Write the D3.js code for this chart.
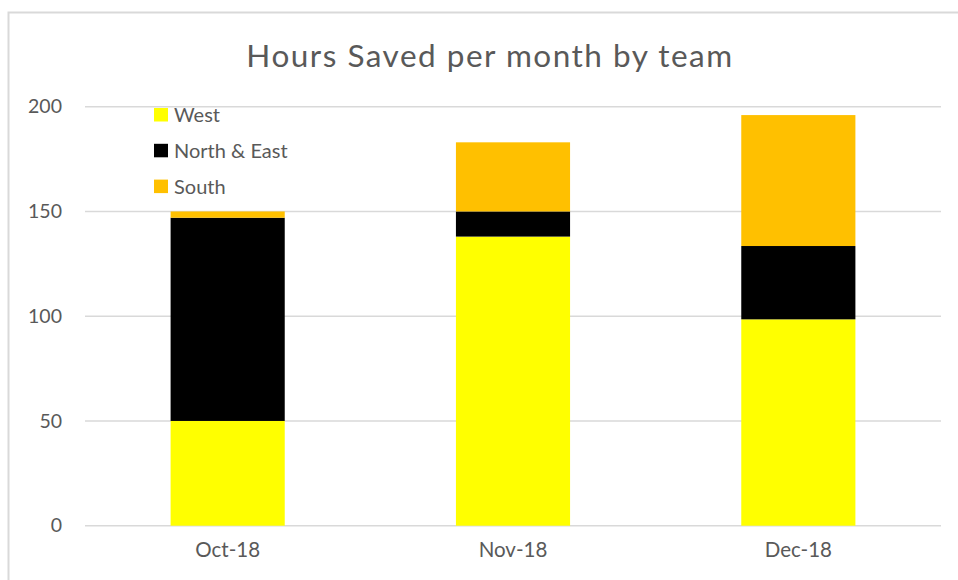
<!DOCTYPE html>
<head>
    <meta charset="utf-8">
    <title>Hours Saved per month by team</title>
    <style>
        body { margin: 0; background: #fff; }
        text { font-family: Lato, "Open Sans", sans-serif; fill: #595959; }
    </style>
</head>
<body>

<svg width="958" height="580"></svg>

<script src="https://cdn.jsdelivr.net/npm/d3@7"></script>
<script>

    // data
    var months = ["Oct-18", "Nov-18", "Dec-18"];
    var teams = ["West", "North & East", "South"];
    var west = [50, 138, 98.5];
    var northEast = [97, 12, 35];
    var south = [3, 33, 62.5];
    var yTicks = [0, 50, 100, 150, 200];
    var teamColors = ["#FFFF00", "#000000", "#FFC000"];

    var svg = d3.select("svg");

    var rows = months.map(function(m, i) {
        return { month: m, "West": west[i], "North & East": northEast[i], "South": south[i] };
    });

    var x = d3.scaleBand()
        .domain(months)
        .range([85, 941])
        .paddingInner(0.6)
        .paddingOuter(0.3);

    var y = d3.scaleLinear()
        .domain([0, 200])
        .range([525.7, 106.7]);

    var color = d3.scaleOrdinal().domain(teams).range(teamColors);

    // chart frame (only top and left edges are in view)
    svg.append("path")
        .attr("d", "M8.5,590V12.5H970")
        .attr("fill", "none")
        .attr("stroke", "#D9D9D9")
        .attr("stroke-width", 2);

    // title
    svg.append("text")
        .attr("x", 490)
        .attr("y", 67)
        .attr("text-anchor", "middle")
        .attr("font-size", 31.5)
        .attr("font-family", "'Open Sans', sans-serif")
        .attr("font-weight", 400)
        .attr("letter-spacing", 1.5)
        .attr("fill", "#595959")
        .text("Hours Saved per month by team");

    // gridlines
    svg.append("g")
        .selectAll("line")
        .data(yTicks)
        .enter().append("line")
            .attr("x1", 85)
            .attr("x2", 941)
            .attr("y1", function(d) { return y(d); })
            .attr("y2", function(d) { return y(d); })
            .attr("stroke", "#D9D9D9")
            .attr("stroke-width", 1.5);

    // y axis labels
    var yAxis = svg.append("g")
        .attr("transform", "translate(62,0)")
        .call(d3.axisLeft(y).tickValues(yTicks).tickSize(0).tickPadding(0));
    yAxis.select(".domain").remove();
    yAxis.selectAll("text")
        .attr("font-size", 19.5)
        .attr("font-family", "Lato, 'Open Sans', sans-serif")
        .attr("fill", "#595959");

    // x axis labels
    var xAxis = svg.append("g")
        .attr("transform", "translate(0,542)")
        .call(d3.axisBottom(x).tickSize(0).tickPadding(0));
    xAxis.select(".domain").remove();
    xAxis.selectAll("text")
        .attr("font-size", 20.5)
        .attr("font-family", "Lato, 'Open Sans', sans-serif")
        .attr("fill", "#595959");

    // stacked bars
    var series = d3.stack().keys(teams)(rows);

    svg.append("g")
        .selectAll("g")
        .data(series)
        .enter().append("g")
            .attr("fill", function(d) { return color(d.key); })
        .selectAll("rect")
        .data(function(d) { return d; })
        .enter().append("rect")
            .attr("x", function(d) { return x(d.data.month); })
            .attr("y", function(d) { return y(d[1]); })
            .attr("height", function(d) { return y(d[0]) - y(d[1]); })
            .attr("width", x.bandwidth());

    // legend
    var legend = svg.append("g")
        .attr("transform", "translate(154,108)")
        .selectAll("g")
        .data(teams)
        .enter().append("g")
            .attr("transform", function(d, i) { return "translate(0," + (i * 35.8) + ")"; });

    legend.append("rect")
        .attr("width", 14)
        .attr("height", 13.5)
        .attr("fill", function(d) { return color(d); });

    legend.append("text")
        .attr("x", 20)
        .attr("y", 7)
        .attr("dy", "0.35em")
        .attr("font-size", 20)
        .text(function(d) { return d; });

</script>

</body>
